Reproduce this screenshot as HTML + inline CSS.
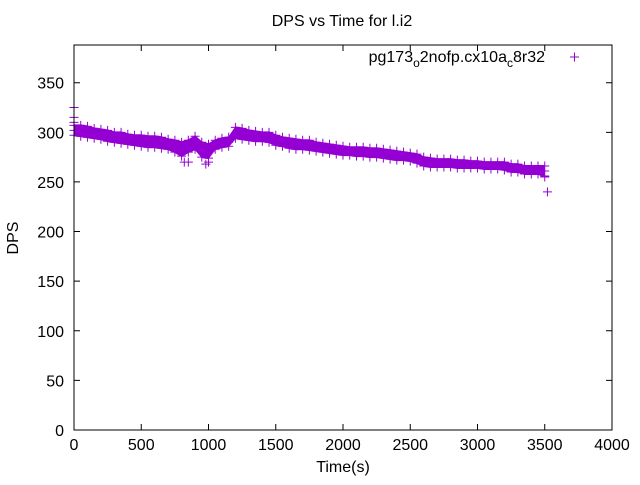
<!DOCTYPE html>
<html><head><meta charset="utf-8"><style>
body{margin:0;background:#fff}
svg text{font-family:"Liberation Sans",sans-serif;font-size:16px;fill:#000}
</style></head><body>
<svg id="chart" width="640" height="480" xmlns="http://www.w3.org/2000/svg">
<rect width="640" height="480" fill="#fff"/>
<text x="342" y="26" text-anchor="middle">DPS vs Time for l.i2</text>
<text transform="translate(18,238) rotate(-90)" text-anchor="middle">DPS</text>
<text x="343" y="472" text-anchor="middle">Time(s)</text>
<g id="ticks"></g>
<g id="marks"></g>
<rect x="74" y="45" width="538" height="385" fill="none" stroke="#000" stroke-width="1"/>
<g>
<text x="545" y="62" text-anchor="end">pg173<tspan font-size="12" dy="5">o</tspan><tspan dy="-5">2nofp.cx10a</tspan><tspan font-size="12" dy="5">c</tspan><tspan dy="-5">8r32</tspan></text>
<path d="M570 57h9M574.5 52.5v9" stroke="#9400d3" stroke-width="1"/>
</g>
</svg>
<script>
const xTicks=[0,500,1000,1500,2000,2500,3000,3500,4000];
const yTicks=[0,50,100,150,200,250,300,350];
const times=[0,50,100,150,200,250,300,350,400,450,500,550,600,650,700,750,800,850,900,950,1000,1050,1100,1150,1200,1250,1300,1350,1400,1450,1500,1550,1600,1650,1700,1750,1800,1850,1900,1950,2000,2050,2100,2150,2200,2250,2300,2350,2400,2450,2500,2550,2600,2650,2700,2750,2800,2850,2900,2950,3000,3050,3100,3150,3200,3250,3300,3350,3400,3450,3500];
const hiVals=[307,307,306,304,303,302,300,300,298,297,297,296,296,295,293,292,290,292,296,290,288,292,294,295,305,304,302,301,300,300,297,295,294,293,292,292,290,289,288,287,286,285,285,285,284,284,283,282,281,280,279,278,275,274,273,273,273,272,272,271,271,270,270,270,270,268,268,266,266,266,266];
const midVals=[302,301,300,299,298,296,295,294,293,292,291,290,290,289,288,286,284,286,290,282,282,287,289,290,299,298,297,296,295,295,292,290,289,288,287,287,285,284,283,282,281,281,280,280,279,279,278,277,276,276,275,273,270,270,269,269,269,268,268,267,267,267,267,266,266,264,264,262,262,262,261];
const loVals=[297,296,295,294,293,291,290,289,288,287,286,285,285,284,283,280,276,280,283,275,274,283,285,286,294,293,292,291,291,290,287,286,284,283,283,282,281,280,279,278,277,277,276,276,275,275,274,273,272,272,271,269,266,265,265,265,265,264,264,264,264,263,263,263,262,260,260,258,258,258,256];
const outT=[0,0,0,820,850,980,1000,3520,3500];
const outV=[325,315,310,270,270,268,270,240,255];
const X=v=>74+v*538/4000;
const Y=v=>430-v*385/388;
const NS="http://www.w3.org/2000/svg";
const tg=document.getElementById('ticks');
xTicks.forEach(t=>{
  const p=document.createElementNS(NS,'path');
  p.setAttribute('d',`M${X(t)} 430v-6M${X(t)} 45v6`);
  p.setAttribute('stroke','#000');
  
  
  tg.appendChild(p);
  const l=document.createElementNS(NS,'text');
  l.setAttribute('x',X(t));l.setAttribute('y',450);l.setAttribute('text-anchor','middle');
  l.textContent=t;
  
  
  tg.appendChild(l);
});
yTicks.forEach(t=>{
  const p=document.createElementNS(NS,'path');
  p.setAttribute('d',`M74 ${Y(t)}h6M612 ${Y(t)}h-6`);
  p.setAttribute('stroke','#000');
  
  
  tg.appendChild(p);
  const l=document.createElementNS(NS,'text');
  l.setAttribute('x',64);l.setAttribute('y',Y(t)+6);l.setAttribute('text-anchor','end');
  l.textContent=t;
  
  
  tg.appendChild(l);
});
const mg=document.getElementById('marks');
// solid band covering the dense point cloud
let bd='M'+times.map((t,i)=>`${X(t)} ${Y(hiVals[i])-1}`).join(' L');
bd+=' L'+times.slice().reverse().map((t,j)=>`${X(t)} ${Y(loVals[times.length-1-j])+1}`).join(' L')+'Z';
const band=document.createElementNS(NS,'path');
band.setAttribute('d',bd);
band.setAttribute('fill','#9400d3');


mg.appendChild(band);
let d='';
function plus(t,v){const x=X(t),y=Y(v);d+=`M${x-4.5} ${y}h9M${x} ${y-4.5}v9`;}
[hiVals,midVals,loVals].forEach(arr=>times.forEach((t,i)=>plus(t,arr[i])));
outT.forEach((t,i)=>plus(t,outV[i]));
const path=document.createElementNS(NS,'path');
path.setAttribute('d',d);
path.setAttribute('stroke','#9400d3');
path.setAttribute('fill','none');
path.setAttribute('stroke-width','1');


mg.appendChild(path);
</script>
</body></html>
